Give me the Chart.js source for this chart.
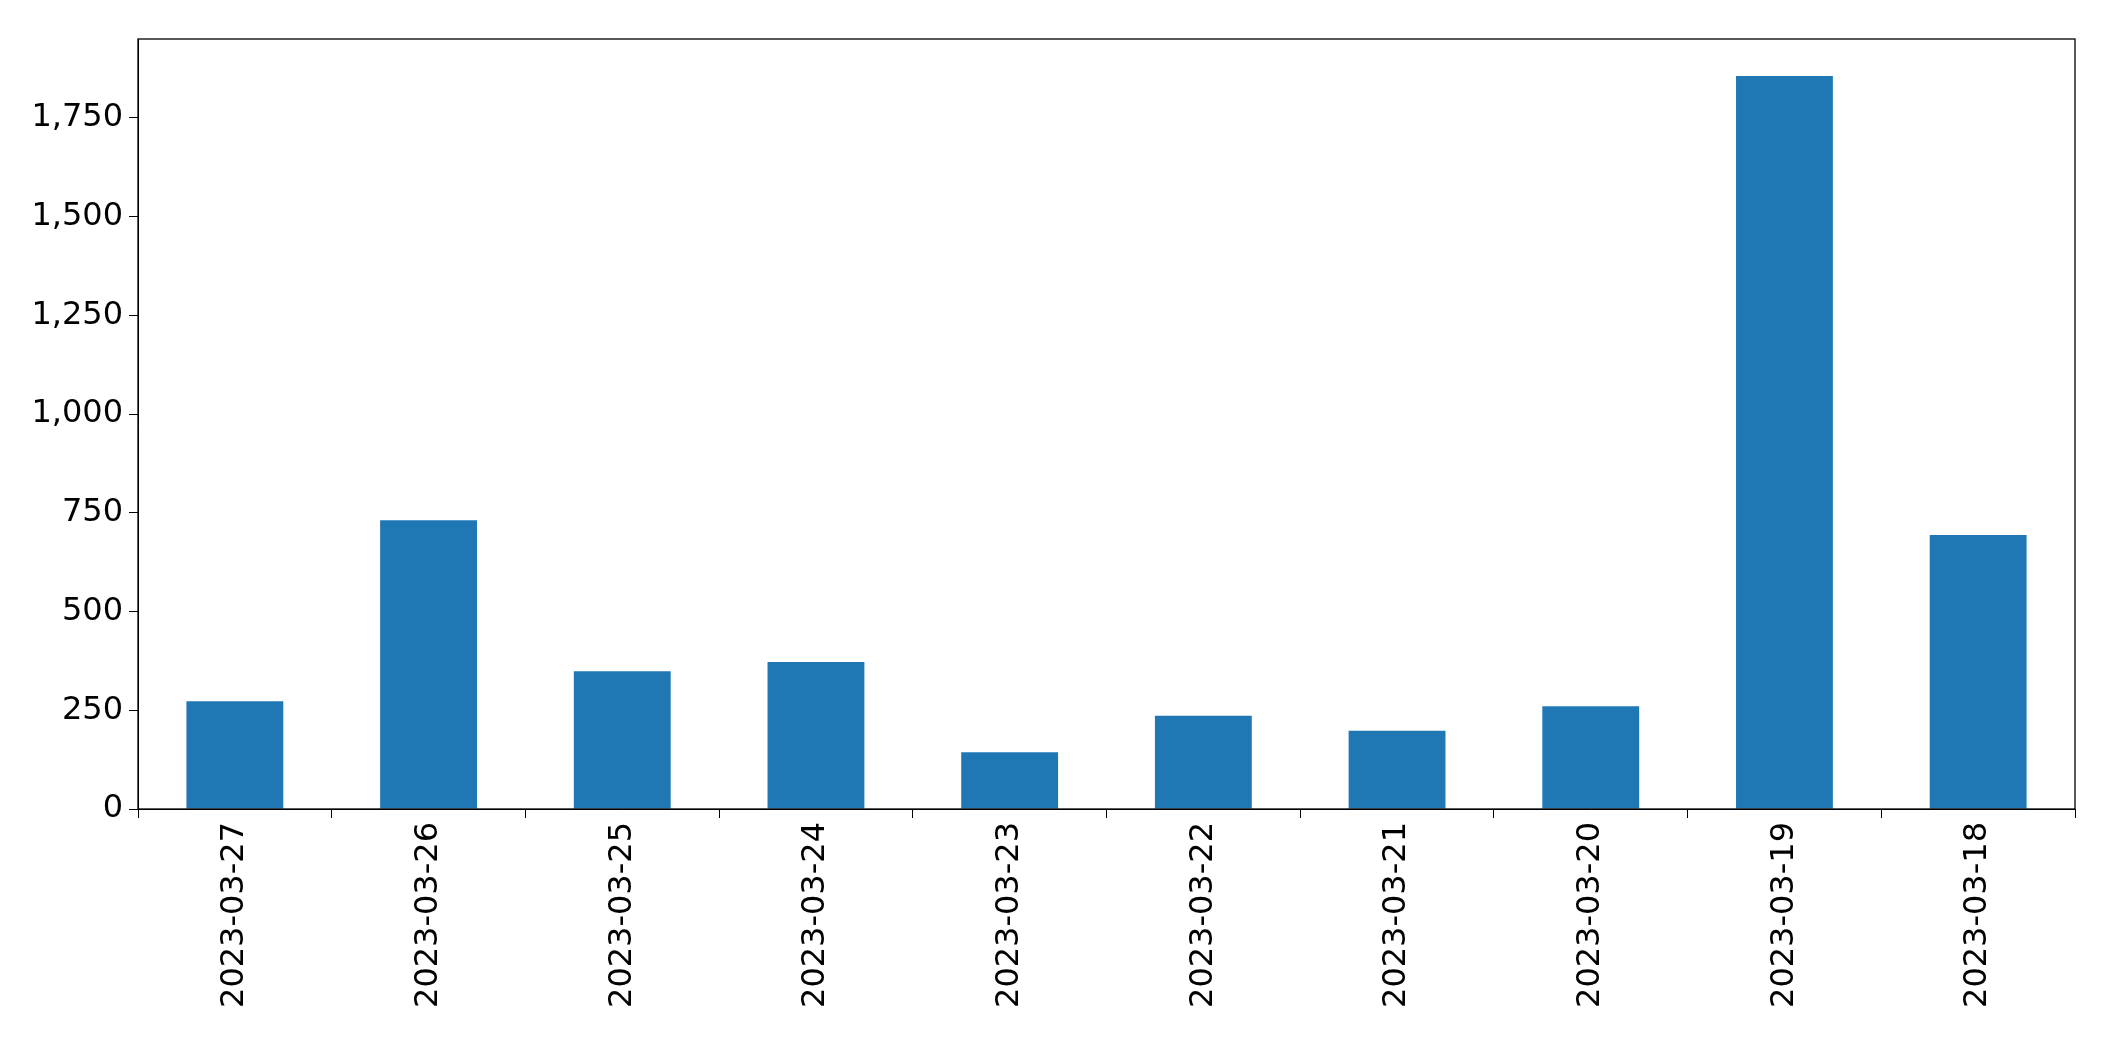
<!DOCTYPE html>
<html><head><meta charset="utf-8">
<script src="https://cdn.jsdelivr.net/npm/chart.js@4"></script>
<style>html,body{margin:0;padding:0;background:#fff}#w{width:2115px;height:1061px}</style>
</head><body><div id="w"><canvas id="c"></canvas></div>
<script>
const categories = ["2023-03-27","2023-03-26","2023-03-25","2023-03-24","2023-03-23","2023-03-22","2023-03-21","2023-03-20","2023-03-19","2023-03-18"];
const values = [273, 731, 349, 372, 144, 236, 198, 260, 1856, 694];
const yTicks = [0, 250, 500, 750, 1000, 1250, 1500, 1750];
const frame = {id:'frame', afterDraw(ch){const a=ch.chartArea,x=ch.ctx;x.save();x.strokeStyle='#000';x.lineWidth=1.3;x.strokeRect(a.left,a.top,a.right-a.left,a.bottom-a.top);x.restore();}};
new Chart(document.getElementById('c'), {
  type:'bar',
  data:{labels:categories, datasets:[{data:values, backgroundColor:'#1f77b4', categoryPercentage:1, barPercentage:0.5}]},
  options:{responsive:true, maintainAspectRatio:false, animation:false,
    layout:{padding:{top:39,right:40,left:0,bottom:0}},
    plugins:{legend:{display:false}, tooltip:{enabled:false}},
    scales:{
      x:{grid:{display:true,drawOnChartArea:false,tickLength:9,color:'#000'}, border:{color:'#000'},
        ticks:{color:'#000',font:{family:'DejaVu Sans',size:32},maxRotation:90,minRotation:90,padding:4},
        afterFit(s){s.height=252;}},
      y:{min:0,max:1950, grid:{display:true,drawOnChartArea:false,tickLength:9,color:'#000'}, border:{color:'#000'},
        ticks:{color:'#000',font:{family:'DejaVu Sans',size:32},stepSize:250,padding:6},
        afterBuildTicks(s){s.ticks=yTicks.map(v=>({value:v}));},
        afterFit(s){s.width=138;}}
    }},
  plugins:[frame]
});
</script></body></html>
